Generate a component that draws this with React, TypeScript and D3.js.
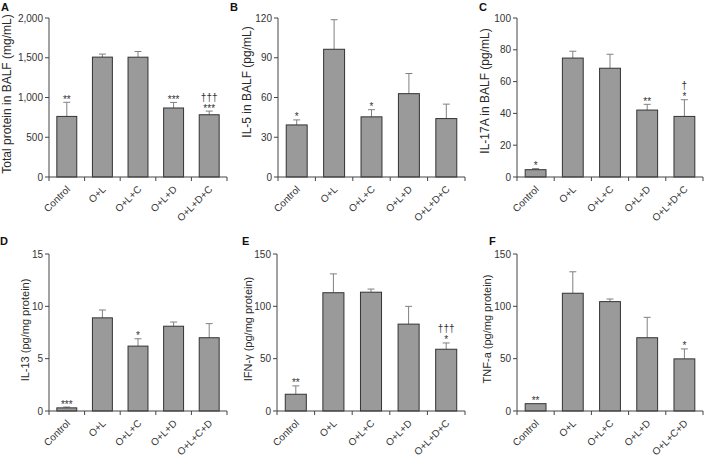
import React from 'react';
import * as d3 from 'd3';

// group labels
const groupsBalf = ['Control', 'O+L', 'O+L+C', 'O+L+D', 'O+L+D+C'];
const groupsTissue = ['Control', 'O+L', 'O+L+C', 'O+L+D', 'O+L+C+D'];

// A: total protein in BALF
const proteinMean = [762, 1508, 1507, 868, 783];
const proteinErr = [178, 38, 72, 70, 46];
const proteinSig = [['**'], [], [], ['***'], ['***', '†††']];
const proteinTicks = [0, 500, 1000, 1500, 2000];

// B: IL-5
const il5Mean = [39.3, 96.4, 45.4, 62.9, 44.1];
const il5Err = [3.8, 22.3, 5.4, 15.2, 10.9];
const il5Sig = [['*'], [], ['*'], [], []];
const il5Ticks = [0, 30, 60, 90, 120];

// C: IL-17A
const il17Mean = [4.6, 74.8, 68.4, 42.1, 38.1];
const il17Err = [0.7, 4.3, 8.8, 3.6, 10.5];
const il17Sig = [['*'], [], [], ['**'], ['*', '†']];
const il17Ticks = [0, 20, 40, 60, 80, 100];

// D: IL-13
const il13Mean = [0.3, 8.9, 6.2, 8.1, 7.0];
const il13Err = [0.08, 0.75, 0.7, 0.4, 1.35];
const il13Sig = [['***'], [], ['*'], [], []];
const il13Ticks = [0, 5, 10, 15];

// E: IFN-gamma
const ifnMean = [16, 113, 113.5, 83, 59];
const ifnErr = [8, 18, 3, 17, 6];
const ifnSig = [['**'], [], [], [], ['*', '†††']];
const ifnTicks = [0, 50, 100, 150];

// F: TNF-a
const tnfMean = [7, 112.5, 104.5, 70, 49.8];
const tnfErr = [0, 20.5, 2.5, 19.5, 9.5];
const tnfSig = [['**'], [], [], [], ['*']];
const tnfTicks = [0, 50, 100, 150];

const FONT = '"Liberation Sans", Arial, Helvetica, sans-serif';

const panels = [
  { letter: 'A', cats: groupsBalf, mean: proteinMean, err: proteinErr, sig: proteinSig, ticks: proteinTicks,
    title: 'Total protein in BALF (mg/mL)', fmt: d3.format(','),
    box: { x0: 49, x1: 227, top: 18, bottom: 177, tx: 11, ty: 94, ts: 12, lx: 1, ly: 11 } },
  { letter: 'B', cats: groupsBalf, mean: il5Mean, err: il5Err, sig: il5Sig, ticks: il5Ticks,
    title: 'IL-5 in BALF (pg/mL)', fmt: d3.format('d'),
    box: { x0: 278, x1: 465, top: 18, bottom: 177, tx: 251, ty: 82, ts: 12, lx: 230, ly: 11 } },
  { letter: 'C', cats: groupsBalf, mean: il17Mean, err: il17Err, sig: il17Sig, ticks: il17Ticks,
    title: 'IL-17A in BALF (pg/mL)', fmt: d3.format('d'),
    box: { x0: 517, x1: 703, top: 18, bottom: 177, tx: 489, ty: 91, ts: 12, lx: 479, ly: 11 } },
  { letter: 'D', cats: groupsTissue, mean: il13Mean, err: il13Err, sig: il13Sig, ticks: il13Ticks,
    title: 'IL-13 (pg/mg protein)', fmt: d3.format('d'),
    box: { x0: 49, x1: 227, top: 254, bottom: 411, tx: 29, ty: 330, ts: 11, lx: 0, ly: 245 } },
  { letter: 'E', cats: groupsBalf, mean: ifnMean, err: ifnErr, sig: ifnSig, ticks: ifnTicks,
    title: 'IFN-γ (pg/mg protein)', fmt: d3.format('d'),
    box: { x0: 277, x1: 465, top: 254, bottom: 411, tx: 252, ty: 329, ts: 11, lx: 242, ly: 245 } },
  { letter: 'F', cats: groupsTissue, mean: tnfMean, err: tnfErr, sig: tnfSig, ticks: tnfTicks,
    title: 'TNF-a (pg/mg protein)', fmt: d3.format('d'),
    box: { x0: 517, x1: 703, top: 254, bottom: 411, tx: 491, ty: 329, ts: 11, lx: 489, ly: 245 } },
];

const BarPanel = ({ p }) => {
  const b = p.box;
  const x = d3.scaleBand().domain(p.cats).range([b.x0, b.x1]).paddingInner(0.44).paddingOuter(0.22);
  const y = d3.scaleLinear().domain([0, p.ticks[p.ticks.length - 1]]).range([b.bottom, b.top]);
  const bw = x.bandwidth();
  const step = x.step();
  const bounds = d3.range(p.cats.length + 1).map(i => b.x0 + i * step);

  return (
    <g>
      <text x={b.lx} y={b.ly} fontSize={11} fontWeight="bold" fill="#111">{p.letter}</text>
      <text transform={`translate(${b.tx},${b.ty}) rotate(-90)`} textAnchor="middle" fontSize={b.ts} fill="#2a2a2a">{p.title}</text>

      {/* bars + error bars */}
      {p.cats.map((c, i) => {
        const x0 = x(c);
        const cx = x0 + bw / 2;
        const top = y(p.mean[i]);
        const errTop = y(p.mean[i] + p.err[i]);
        return (
          <g key={c}>
            {p.err[i] > 0 && (
              <g stroke="#808080" strokeWidth={1}>
                <line x1={cx} x2={cx} y1={top} y2={errTop} />
                <line x1={cx - 3.5} x2={cx + 3.5} y1={errTop} y2={errTop} />
              </g>
            )}
            <rect x={x0} y={top} width={bw} height={b.bottom - top} fill="#9a9a9a" stroke="#333" strokeWidth={1} />
            {p.sig[i].map((s, k) => (
              <text key={k} x={cx} y={errTop + 0.5 - k * 11} textAnchor="middle" fontSize={10} fill="#333">{s}</text>
            ))}
          </g>
        );
      })}

      {/* y axis */}
      <line x1={b.x0} x2={b.x0} y1={b.top} y2={b.bottom} stroke="#444" />
      {p.ticks.map(t => (
        <g key={t}>
          <line x1={b.x0 - 4} x2={b.x0} y1={y(t)} y2={y(t)} stroke="#444" />
          <text x={b.x0 - 6} y={y(t)} dy="0.35em" textAnchor="end" fontSize={10} fill="#333">{p.fmt(t)}</text>
        </g>
      ))}

      {/* x axis */}
      <line x1={b.x0} x2={b.x1} y1={b.bottom} y2={b.bottom} stroke="#444" />
      {bounds.map((bx, i) => (
        <line key={i} x1={bx} x2={bx} y1={b.bottom} y2={b.bottom + 4} stroke="#444" />
      ))}
      {p.cats.map(c => {
        const cx = x(c) + bw / 2 + 4;
        const ly = b.bottom + 13;
        return (
          <text key={c} transform={`translate(${cx},${ly}) rotate(-45)`} textAnchor="end" fontSize={10} fill="#333">{c}</text>
        );
      })}
    </g>
  );
};

export default function App() {
  return (
    <svg width={704} height={458} style={{ position: 'absolute', left: 0, top: 0, background: '#fff' }} fontFamily={FONT}>
      <rect width={704} height={458} fill="#fff" />
      {panels.map(p => <BarPanel key={p.letter} p={p} />)}
    </svg>
  );
}
